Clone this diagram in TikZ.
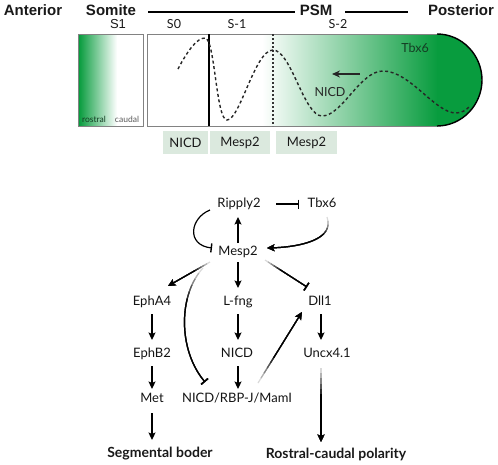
\documentclass[tikz,border=0pt]{standalone}
\usepackage{fontspec}
\setmainfont{Lato}
\newfontfamily\hdr{Liberation Sans}
\usetikzlibrary{arrows.meta,calc}
\definecolor{gr}{RGB}{8,156,62}
\definecolor{tile}{RGB}{219,233,222}
\definecolor{dkg}{RGB}{20,60,35}
\definecolor{frame}{RGB}{130,130,130}

\newcommand\fadecurve[5]{%
 \path #1 coordinate (fc0) #2 coordinate (fc1) #3 coordinate (fc2) #4 coordinate (fc3);
 \foreach \ft/\fg in {0/15,0.06/30,0.12/48,0.18/66,0.24/82,0.30/100}{%
  \path ($(fc0)!\ft!(fc1)$) coordinate (fa1) ($(fc1)!\ft!(fc2)$) coordinate (fa2) ($(fc2)!\ft!(fc3)$) coordinate (fa3);
  \path ($(fa1)!\ft!(fa2)$) coordinate (fb1) ($(fa2)!\ft!(fa3)$) coordinate (fb2);
  \path ($(fb1)!\ft!(fb2)$) coordinate (fcc);
  \draw[conn,#5,draw=black!\fg] (fcc) .. controls (fb2) and (fa3) .. (fc3);
 }}
\newcommand\fadeline[3]{%
 \path #1 coordinate (fl0) #2 coordinate (fl1);
 \foreach \ft/\fg in {0/15,0.07/30,0.14/48,0.21/66,0.28/82,0.35/100}{%
  \draw[conn,#3,draw=black!\fg] ($(fl0)!\ft!(fl1)$) -- (fl1);
 }}

\begin{document}
\begin{tikzpicture}[x=1pt,y=-1pt,
  lab/.style={font=\fontsize{13}{15}\selectfont, text=black!92, inner sep=2pt, text height=9pt, text depth=2.5pt},
  outc/.style={font=\fontsize{14}{16}\selectfont\bfseries, text=black!90, inner sep=2pt},
  hd/.style={font=\hdr\fontsize{15}{17}\selectfont\bfseries, text=black!90, inner sep=0pt},
  sl/.style={font=\fontsize{12.5}{14}\selectfont, text=black!90, inner sep=0pt},
  tilebox/.style={fill=tile, draw=none, inner sep=0pt, font=\fontsize{13}{15}\selectfont, text=black!90},
  conn/.style={line width=1.2pt},
  act/.style={-{Stealth[length=7.5pt,width=7pt,inset=1.5pt]}},
  inh/.style={-{Bar[width=9pt,line width=1.4pt]}}]
\useasboundingbox (0,0) rectangle (498,464);

% ---------- header ----------
\node[hd] (ant) at (33,10) {Anterior};
\node[hd] (som) at (111,10) {Somite};
\node[hd] (psm) at (316,10) {PSM};
\node[hd] (post) at (461,10) {Posterior};
\draw[line width=2.5pt] (148,12) -- (295,12);
\draw[line width=2.5pt] (345,12) -- (408,12);
\node[sl, font=\hdr\fontsize{13}{15}\selectfont] (s1) at (118,24) {S1};
\node[sl] (s0) at (174,24) {S0};
\node[sl] (sm1) at (237,24) {S-1};
\node[sl] (sm2) at (338,24) {S-2};

% ---------- somite ----------
\shade[left color=gr, right color=white] (79,35) rectangle (117,125);
\draw[frame, line width=1pt] (78,34) rectangle (143,126);
\node[inner sep=0pt, font=\fontsize{8.5}{10}\selectfont, text=dkg] (rost) at (94,119) {rostral};
\node[inner sep=0pt, font=\fontsize{8.5}{10}\selectfont, text=black!65] (caud) at (127,119) {caudal};

% ---------- PSM ----------
\shade[left color=white, right color=gr] (262,34) rectangle (437.5,126);
\fill[gr] (437,34) .. controls (462,34) and (482,55) .. (482,80) .. controls (482,105) and (462,126) .. (437,126) -- cycle;
\draw[frame, line width=1pt] (437,34) -- (147,34) -- (147,126) -- (437,126);
\draw[black, line width=1.4pt] (437,34) .. controls (462,34) and (482,55) .. (482,80) .. controls (482,105) and (462,126) .. (437,126);
\draw[black, line width=1.2pt] (209,34) -- (209,126);
\draw[black!80, line width=1.5pt, dash pattern=on 2pt off 2pt] (273,34) -- (273,126);
\draw[black!85, line width=1.4pt, dash pattern=on 3pt off 2.6pt]
  (178,69) .. controls (188,50) and (197,38) .. (205,38)
  .. controls (215,38) and (216,120) .. (227,120)
  .. controls (240,120) and (255,50) .. (273,50)
  .. controls (291,50) and (304,116) .. (322,116)
  .. controls (342,116) and (360,71) .. (383,71)
  .. controls (410,71) and (435,113) .. (456,113)
  .. controls (462,113) and (466,110) .. (470,106);
\node[inner sep=0pt, font=\fontsize{12.5}{14}\selectfont, text=dkg] (tbx) at (415,48) {Tbx6};
\node[inner sep=0pt, font=\fontsize{12.5}{14}\selectfont, text=black!85] (nicdw) at (330,92) {NICD};
\coordinate (arS) at (360,74);
\coordinate (arE) at (332,74);
\draw[line width=1.6pt, black!85, -{Stealth[length=8pt,width=7pt]}] (arS) -- (arE);

% ---------- tiles ----------
\node[tilebox, minimum width=45pt, minimum height=23pt] (b1) at (185.5,142.5) {NICD};
\node[tilebox, minimum width=60pt, minimum height=23pt] (b2) at (240,142.5) {Mesp2};
\node[tilebox, minimum width=61pt, minimum height=23pt] (b3) at (306.5,142.5) {Mesp2};

% ---------- network ----------
\node[lab] (R) at (239,204) {Ripply2};
\node[lab] (T) at (322,204) {Tbx6};
\node[lab] (M) at (238,252) {Mesp2};
\node[lab] (EA) at (152,302) {EphA4};
\node[lab] (LF) at (238,302) {L-fng};
\node[lab] (DL) at (320,302) {Dll1};
\node[lab] (EB) at (152,354) {EphB2};
\node[lab] (NI) at (237,354) {NICD};
\node[lab] (UN) at (327,354) {Uncx4.1};
\node[lab] (MT) at (152,399) {Met};
\node[lab] (NR) at (237,399) {NICD/RBP-J/MamI};
\node[outc] (SB) at (160,454) {Segmental boder};
\node[outc] (RC) at (336,454) {Rostral-caudal polarity};

\draw[conn,act] ($(M)+(0,-9)$) -- ($(R)+(-1,13)$);
\draw[conn,inh] ($(R)+(37,0)$) -- ($(T)+(-23,0)$);
\draw[conn,inh] ($(R)+(-29,6)$) .. controls (190,218) and (186,245) .. ($(M)+(-26,-4)$);
\fadecurve{($(T)+(5,13)$)}{(335,240)}{(300,247)}{($(M)+(29,-4)$)}{act}
\fadeline{($(M)+(-28,10)$)}{($(EA)+(16,-16)$)}{act}
\draw[conn,act] ($(M)+(0,10)$) -- ($(LF)+(0,-14)$);
\fadeline{($(M)+(27,8)$)}{($(DL)+(-13,-15)$)}{inh}
\fadecurve{($(M)+(-35,16)$)}{(178,295)}{(178,350)}{($(NR)+(-32,-17)$)}{inh}
\draw[conn,act] ($(EA)+(0,12)$) -- ($(EB)+(0,-14)$);
\draw[conn,act] ($(EB)+(0,12)$) -- ($(MT)+(0,-10)$);
\draw[conn,act] ($(MT)+(0,14)$) -- ($(SB)+(-8,-14)$);
\draw[conn,act] ($(LF)+(0,12)$) -- ($(NI)+(1,-14)$);
\draw[conn,act] ($(NI)+(1,12)$) -- ($(NR)+(1,-10)$);
\fadeline{($(NR)+(21,-16)$)}{($(DL)+(-18,10)$)}{act}
\draw[conn,act] ($(DL)+(1,12)$) -- ($(UN)+(-6,-14)$);
\fadeline{($(UN)+(-6,14)$)}{($(RC)+(-15,-12)$)}{act}
\end{tikzpicture}
\end{document}
